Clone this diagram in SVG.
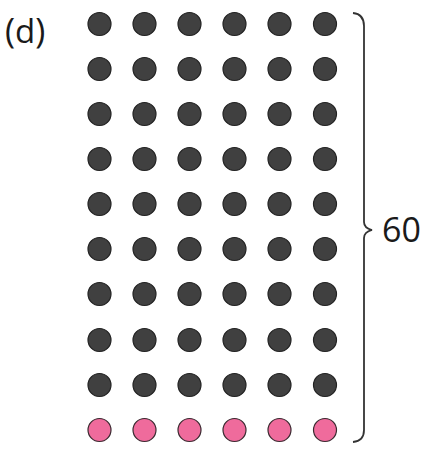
<svg xmlns="http://www.w3.org/2000/svg" width="428" height="454" viewBox="0 0 428 454">
<style>
.d{fill:#404040;stroke:#222;stroke-width:1.2}
.p{fill:#ef6b9c;stroke:#3a2a30;stroke-width:1.2}
.t{font-family:"Open Sans","Noto Sans",sans-serif;font-size:34px;fill:#1a1a1a}
.b{fill:none;stroke:#333;stroke-width:1.8}
</style>
<defs>
<g id="row"><circle cx="99.5" cy="0" r="11.5"/><circle cx="144.5" cy="0" r="11.5"/><circle cx="189.5" cy="0" r="11.5"/><circle cx="234.5" cy="0" r="11.5"/><circle cx="279.5" cy="0" r="11.5"/><circle cx="325" cy="0" r="11.5"/></g>
</defs>
<g id="label"><text class="t" x="5" y="43" font-size="40">(<tspan font-size="33">d</tspan>)</text></g>
<g id="dots">
<use href="#row" class="d" y="24"/>
<use href="#row" class="d" y="69"/>
<use href="#row" class="d" y="114"/>
<use href="#row" class="d" y="159"/>
<use href="#row" class="d" y="204"/>
<use href="#row" class="d" y="249"/>
<use href="#row" class="d" y="294"/>
<use href="#row" class="d" y="340"/>
<use href="#row" class="d" y="385"/>
<use href="#row" class="p" y="430"/>
</g>
<g id="brace">
<path class="b" d="M353,13 Q364,14 364,26 L364,222 Q364,228 372,230 Q364,232 364,238 L364,430 Q364,441 353,442"/>
<text class="t" x="382" y="242">60</text>
</g>
</svg>
